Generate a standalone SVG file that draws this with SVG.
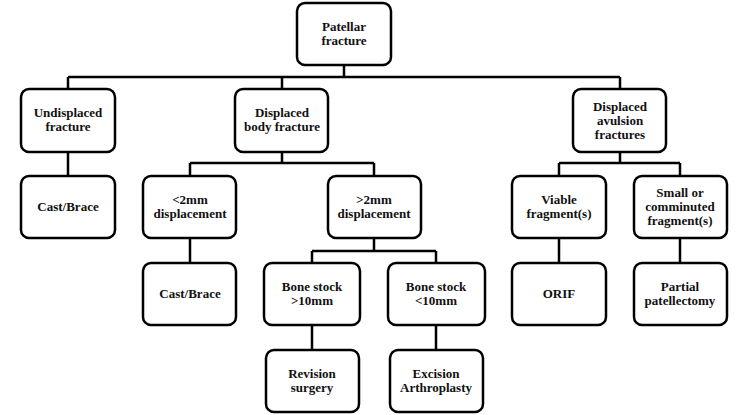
<svg xmlns="http://www.w3.org/2000/svg" width="748" height="415" viewBox="0 0 748 415">
<style>
rect{fill:#fff;stroke:#000;stroke-width:2.5}
text{font-family:"Liberation Serif",serif;font-weight:bold;font-size:13px;text-anchor:middle;fill:#111}
.c{fill:none;stroke:#000;stroke-width:2.5}
</style>
<rect x="0" y="0" width="748" height="415" style="stroke:none"/>
<g id="connectors" class="c">
<path d="M344 65V77M68 77H620M68 77V89M282 77V89M620 77V89"/>
<path d="M68 152V176"/>
<path d="M282 152V163M190 163H374M190 163V176M374 163V176"/>
<path d="M190 238V263"/>
<path d="M374 238V251M312 251H436M312 251V263M436 251V263"/>
<path d="M312 325V350M436 325V350"/>
<path d="M620 152V163M559 163H680M559 163V176M680 163V176"/>
<path d="M559 238V263M680 238V263"/>
</g>
<g id="root"><rect x="297" y="3" width="94" height="62" rx="8"/><text x="344" y="31">Patellar</text><text x="344" y="45">fracture</text></g>
<g id="undisplaced"><rect x="21" y="89" width="94" height="63" rx="8"/><text x="68" y="117">Undisplaced</text><text x="68" y="131">fracture</text></g>
<g id="body"><rect x="235" y="89" width="93" height="63" rx="8"/><text x="282" y="117">Displaced</text><text x="282" y="131">body fracture</text></g>
<g id="avulsion"><rect x="573" y="89" width="93" height="63" rx="8"/><text x="620" y="111">Displaced</text><text x="620" y="125">avulsion</text><text x="620" y="139">fractures</text></g>
<g id="cast1"><rect x="21" y="176" width="94" height="62" rx="8"/><text x="68" y="211">Cast/Brace</text></g>
<g id="lt2"><rect x="143" y="176" width="93" height="62" rx="8"/><text x="190" y="204">&lt;2mm</text><text x="190" y="218">displacement</text></g>
<g id="gt2"><rect x="328" y="176" width="93" height="62" rx="8"/><text x="374" y="204">&gt;2mm</text><text x="374" y="218">displacement</text></g>
<g id="viable"><rect x="512" y="176" width="94" height="62" rx="8"/><text x="559" y="204">Viable</text><text x="559" y="218">fragment(s)</text></g>
<g id="small"><rect x="634" y="176" width="93" height="62" rx="8"/><text x="680" y="197">Small or</text><text x="680" y="211">comminuted</text><text x="680" y="225">fragment(s)</text></g>
<g id="cast2"><rect x="143" y="263" width="93" height="62" rx="8"/><text x="190" y="298">Cast/Brace</text></g>
<g id="bs10gt"><rect x="264" y="263" width="96" height="62" rx="8"/><text x="312" y="291">Bone stock</text><text x="312" y="305">&gt;10mm</text></g>
<g id="bs10lt"><rect x="388" y="263" width="97" height="62" rx="8"/><text x="436" y="291">Bone stock</text><text x="436" y="305">&lt;10mm</text></g>
<g id="orif"><rect x="512" y="263" width="94" height="62" rx="8"/><text x="559" y="298">ORIF</text></g>
<g id="partial"><rect x="634" y="263" width="93" height="62" rx="8"/><text x="680" y="291">Partial</text><text x="680" y="305">patellectomy</text></g>
<g id="revision"><rect x="266" y="350" width="93" height="62" rx="8"/><text x="312" y="378">Revision</text><text x="312" y="392">surgery</text></g>
<g id="excision"><rect x="390" y="350" width="93" height="62" rx="8"/><text x="436" y="378">Excision</text><text x="436" y="392">Arthroplasty</text></g>
</svg>
